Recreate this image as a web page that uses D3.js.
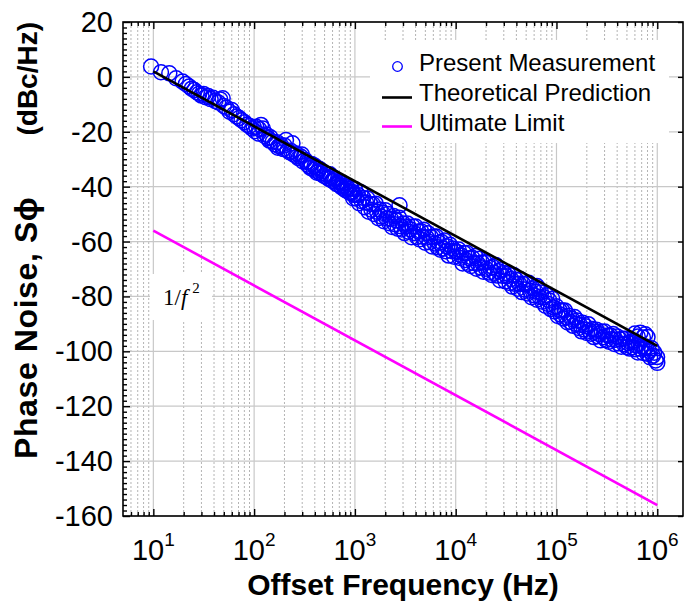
<!DOCTYPE html>
<html>
<head>
<meta charset="utf-8">
<script src="https://cdn.jsdelivr.net/npm/d3@7"></script>
<style>
body { margin: 0; background: #fff; }
text { font-family: "Liberation Sans", Arial, sans-serif; fill: #000; }
</style>
</head>
<body>
<div id="chart"></div>
<script>
const measFreq = [
  9.5, 11.9, 14.4, 16.8, 19.5, 21, 22.7, 24, 25.5, 27, 28.5, 30, 31.5, 33, 35, 37, 39, 41, 44, 46, 48.7, 50, 53, 57, 60, 63, 67, 71, 75, 80, 85, 90, 95, 99,
  102, 105, 110, 112, 117, 122, 127, 132, 138, 142, 145, 153, 160, 168, 172, 176, 185, 195, 200, 207, 215, 226, 233, 240, 248, 262, 268, 275, 290, 298, 305, 320, 330, 338, 355, 362, 372, 390, 400, 410, 420, 432, 443, 455, 478, 490, 500, 525, 538, 552, 565, 580, 595, 610, 625, 640, 655, 672, 688, 705, 722, 740, 760, 778, 795, 815, 835, 855, 878, 900, 920, 945, 960, 975, 990,
  1000, 1030, 1070, 1100, 1140, 1170, 1210, 1250, 1290, 1330, 1370, 1420, 1460, 1510, 1560, 1610, 1660, 1710, 1770, 1820, 1880, 1940, 2000, 2070, 2130, 2200, 2270, 2340, 2420, 2490, 2570, 2660, 2740, 2770, 2830, 2920, 3010, 3110, 3210, 3310, 3420, 3530, 3640, 3750, 3870, 4000, 4120, 4260, 4390, 4530, 4680, 4830, 4980, 5140, 5300, 5470, 5650, 5830, 6010, 6210, 6410, 6610, 6820, 7040, 7260, 7500, 7740, 7980, 8240, 8500, 8770, 9050, 9340, 9640, 9950,
  10300, 10700, 11000, 11400, 11700, 12100, 12500, 12900, 13300, 13700, 14200, 14600, 15100, 15600, 16100, 16600, 17100, 17700, 18200, 18800, 19400, 20000, 20700, 21300, 22000, 22700, 23400, 24200, 24900, 25700, 26600, 27400, 28300, 29200, 30100, 31100, 32100, 33100, 34200, 35300, 36400, 37500, 38700, 40000, 41200, 42600, 43900, 45300, 46800, 48300, 49800, 51400, 53000, 54700, 56500, 58300, 60100, 62100, 64000, 64100, 66100, 68200, 70400, 72600, 75000, 77400, 79800, 82400, 85000, 87700, 90500, 93400, 96400, 99500,
  103000, 107000, 110000, 114000, 117000, 121000, 125000, 129000, 133000, 137000, 142000, 146000, 151000, 156000, 161000, 166000, 171000, 177000, 182000, 188000, 194000, 200000, 207000, 213000, 220000, 227000, 234000, 242000, 249000, 257000, 266000, 274000, 283000, 292000, 301000, 311000, 321000, 331000, 342000, 353000, 364000, 375000, 387000, 400000, 412000, 426000, 439000, 453000, 468000, 483000, 498000, 514000, 530000, 547000, 565000, 583000, 601000, 621000, 641000, 661000, 682000, 704000, 726000, 750000, 774000, 798000, 824000, 850000, 877000, 905000, 934000, 964000, 995000, 1000000,
  600000, 640000, 680000, 720000, 760000, 800000
]
const measPhase = [
  3.8, 1.7, 1.3, -0.5, -1.7, -2.6, -3.5, -4.3, -4.8, -5.6, -6.1, -6.8, -6.2, -7.4, -7.0, -8.1, -7.6, -8.8, -9.3, -8.2, -7.8, -10.6, -11.2, -12.7, -12.1, -13.6, -14.4, -15.0, -15.8, -16.5, -17.4, -17.9, -18.8, -18.3,
  -19.8, -18.2, -20.6, -19.0, -17.5, -18.8, -21.5, -21.0, -22.4, -23.2, -22.0, -23.6, -24.5, -23.8, -25.8, -25.2, -24.9, -26.3, -25.0, -23.0, -26.8, -27.5, -27.0, -24.2, -28.3, -27.9, -29.0, -29.6, -29.0, -28.3, -30.8, -30.2, -31.0, -31.9, -32.6, -33.2, -31.7, -33.8, -32.4, -33.1, -34.9, -34.5, -33.5, -35.2, -34.4, -36.0, -36.1, -35.6, -36.8, -37.2, -35.5, -36.5, -37.8, -38.0, -36.9, -37.4, -39.0, -39.1, -38.1, -38.6, -39.7, -40.3, -38.7, -39.7, -41.0, -41.4, -40.2, -40.8, -42.0, -42.3, -40.6, -41.9, -44.2, -42.8, -43.0,
  -40.9, -44.3, -43.0, -46.0, -42.0, -45.3, -44.1, -47.5, -45.8, -44.3, -49.1, -46.3, -48.4, -46.4, -50.0, -46.2, -49.1, -51.5, -48.3, -50.9, -49.5, -52.6, -48.6, -51.6, -50.0, -53.3, -51.7, -54.7, -50.7, -53.7, -52.3, -55.3, -51.3, -46.8, -54.4, -55.6, -53.4, -56.9, -54.5, -53.4, -56.4, -55.5, -58.4, -54.5, -56.9, -54.5, -58.3, -56.3, -59.2, -56.2, -58.2, -55.7, -60.4, -58.5, -57.0, -60.2, -58.3, -61.8, -58.2, -60.7, -58.2, -62.1, -60.4, -63.0, -60.2, -62.5, -59.6, -63.5, -61.8, -65.1, -61.2, -63.4, -62.5, -65.5, -63.5,
  -63.8, -62.9, -66.0, -65.1, -68.0, -64.2, -66.7, -64.2, -68.1, -66.1, -68.9, -65.9, -67.8, -65.3, -69.9, -68.0, -66.3, -69.4, -67.6, -71.0, -67.5, -69.9, -67.5, -71.3, -69.6, -72.2, -69.3, -71.4, -68.5, -72.4, -70.8, -74.1, -70.2, -72.5, -71.5, -74.5, -72.6, -71.8, -75.1, -73.6, -76.4, -72.2, -75.4, -74.0, -77.2, -75.4, -73.7, -78.4, -75.5, -77.5, -75.4, -78.9, -75.0, -77.9, -80.3, -77.0, -79.6, -78.2, -76.2, -81.2, -77.2, -80.2, -78.6, -81.9, -80.3, -83.4, -79.6, -82.7, -81.5, -84.6, -80.8, -84.0, -85.5, -83.6,
  -87.1, -85.0, -86.6, -85.1, -88.0, -85.1, -87.6, -89.5, -87.0, -89.2, -88.2, -90.7, -87.5, -90.0, -88.8, -91.5, -90.3, -92.7, -89.6, -92.0, -90.9, -93.3, -90.1, -92.6, -93.6, -91.9, -94.8, -92.9, -92.1, -94.5, -93.7, -96.0, -92.9, -94.9, -92.8, -95.9, -94.2, -96.5, -94.2, -95.6, -93.7, -97.3, -95.8, -94.6, -97.1, -95.6, -98.3, -95.4, -97.4, -95.4, -98.4, -97.0, -99.0, -96.7, -98.5, -96.1, -99.2, -97.8, -100.4, -97.3, -99.1, -98.2, -100.6, -99.0, -98.3, -100.9, -99.8, -102.2, -98.9, -101.6, -100.5, -103.3, -102.1, -104.2,
  -93.5, -94.6, -93.2, -95.0, -93.8, -94.8
]
const theoryFreq = [10, 1e6]
const theoryPhase = [2, -98]
const limitFreq = [10, 1e6]
const limitPhase = [-56, -156]

const xTickExps = [1, 2, 3, 4, 5, 6]
const yTickValues = [20, 0, -20, -40, -60, -80, -100, -120, -140, -160]
const legendLabels = ["Present Measurement", "Theoretical Prediction", "Ultimate Limit"]

const width = 684
const height = 603
const margin = {top: 22, right: 1, bottom: 87, left: 123}

const svg = d3.select("#chart").append("svg").attr("width", width).attr("height", height)

// scales
const x = d3.scaleLog().domain([5, 1.8e6]).range([margin.left, width - margin.right])
const y = d3.scaleLinear().domain([-160, 20]).range([height - margin.bottom, margin.top])

const xMajor = xTickExps.map(e => Math.pow(10, e))
let xMinor = []
for (let e = 0; e <= 6; e++) {
  for (let k = 2; k <= 9; k++) {
    const v = k * Math.pow(10, e)
    if (v > 5 && v < 1.8e6) xMinor.push(v)
  }
}
const yMinor = d3.range(-158, 20, 2).filter(v => v % 20 !== 0)

// grid
const grid = svg.append("g")
grid.selectAll(".vminor").data(xMinor).enter().append("line")
  .attr("x1", d => x(d)).attr("x2", d => x(d))
  .attr("y1", y(20)).attr("y2", y(-160))
  .attr("stroke", "#b4b4b4").attr("stroke-width", 1).attr("stroke-dasharray", "2,2")
grid.selectAll(".vmajor").data(xMajor).enter().append("line")
  .attr("x1", d => x(d)).attr("x2", d => x(d))
  .attr("y1", y(20)).attr("y2", y(-160))
  .attr("stroke", "#c8c8c8").attr("stroke-width", 1.2)
grid.selectAll(".hmajor").data(yTickValues).enter().append("line")
  .attr("x1", x(5)).attr("x2", x(1.8e6))
  .attr("y1", d => y(d)).attr("y2", d => y(d))
  .attr("stroke", "#c8c8c8").attr("stroke-width", 1.2)

// white boxes behind legend and 1/f^2 label
svg.append("rect").attr("x", 370).attr("y", 40).attr("width", 299).attr("height", 103).attr("fill", "#fff")
svg.append("rect").attr("x", 150).attr("y", 274).attr("width", 62).attr("height", 46).attr("fill", "#fff")

// lines
const line = d3.line().x(d => x(d[0])).y(d => y(d[1]))
svg.append("path").datum(d3.zip(limitFreq, limitPhase)).attr("d", line)
  .attr("fill", "none").attr("stroke", "#ff00ff").attr("stroke-width", 2.6)

// measurement circles
svg.append("g").selectAll("circle").data(d3.zip(measFreq, measPhase)).enter().append("circle")
  .attr("cx", d => x(d[0])).attr("cy", d => y(d[1])).attr("r", 7.5)
  .attr("fill", "none").attr("stroke", "#0000ff").attr("stroke-width", 1.5)

svg.append("path").datum(d3.zip(theoryFreq, theoryPhase)).attr("d", line)
  .attr("fill", "none").attr("stroke", "#000").attr("stroke-width", 2.6)

// axes (ticks inward)
function styleAxis(g) {
  g.select(".domain").remove()
  g.selectAll("line").attr("stroke", "#000").attr("stroke-width", 1.4)
}
svg.append("g").attr("transform", `translate(0, ${y(-160)})`)
  .call(d3.axisBottom(x).tickValues(xMajor).tickSize(-7).tickFormat("")).call(styleAxis)
svg.append("g").attr("transform", `translate(0, ${y(-160)})`)
  .call(d3.axisBottom(x).tickValues(xMinor).tickSize(-4).tickFormat("")).call(styleAxis)
svg.append("g").attr("transform", `translate(0, ${y(20)})`)
  .call(d3.axisTop(x).tickValues(xMajor).tickSize(-7).tickFormat("")).call(styleAxis)
svg.append("g").attr("transform", `translate(0, ${y(20)})`)
  .call(d3.axisTop(x).tickValues(xMinor).tickSize(-4).tickFormat("")).call(styleAxis)
svg.append("g").attr("transform", `translate(${x(5)}, 0)`)
  .call(d3.axisLeft(y).tickValues(yTickValues).tickSize(-7).tickFormat("")).call(styleAxis)
svg.append("g").attr("transform", `translate(${x(5)}, 0)`)
  .call(d3.axisLeft(y).tickValues(yMinor).tickSize(-4).tickFormat("")).call(styleAxis)
svg.append("g").attr("transform", `translate(${x(1.8e6)}, 0)`)
  .call(d3.axisRight(y).tickValues(yTickValues).tickSize(-5).tickFormat("")).call(styleAxis)

// frame
svg.append("rect").attr("x", x(5)).attr("y", y(20))
  .attr("width", x(1.8e6) - x(5)).attr("height", y(-160) - y(20))
  .attr("fill", "none").attr("stroke", "#000").attr("stroke-width", 1.6)

// tick labels
svg.selectAll(".ylab").data(yTickValues).enter().append("text")
  .attr("x", x(5) - 10).attr("y", d => y(d) + 10)
  .attr("text-anchor", "end").style("font-size", "29px")
  .text(d => d)

const xl = svg.selectAll(".xlab").data(xTickExps).enter().append("text")
  .attr("x", d => x(Math.pow(10, d))).attr("y", 560)
  .attr("text-anchor", "middle").style("font-size", "29px")
xl.append("tspan").text("10")
xl.append("tspan").attr("dy", -14).style("font-size", "19px").text(d => d)

// axis titles
svg.append("text").attr("x", (x(5) + x(1.8e6)) / 2).attr("y", 595)
  .attr("text-anchor", "middle").style("font-size", "30px").style("font-weight", "bold")
  .text("Offset Frequency (Hz)")
svg.append("text").attr("transform", "translate(37, 459) rotate(-90)")
  .attr("text-anchor", "start").style("font-size", "32px").style("font-weight", "bold")
  .style("letter-spacing", "0.6px")
  .text("Phase Noise, S\u03d5")
svg.append("text").attr("transform", "translate(37, 22) rotate(-90)")
  .attr("text-anchor", "end").style("font-size", "28px").style("font-weight", "bold")
  .text("(dBc/Hz)")

// 1/f^2 label
const fl = svg.append("text").attr("x", 163).attr("y", 305)
  .style("font-family", "'Liberation Serif', 'Times New Roman', serif").style("font-size", "23px")
fl.append("tspan").text("1/")
fl.append("tspan").style("font-style", "italic").text("f")
fl.append("tspan").attr("dx", 5).attr("dy", -12).style("font-size", "15px").text("2")

// legend
const lg = svg.append("g")
lg.append("circle").attr("cx", 397.5).attr("cy", 66.5).attr("r", 4.8)
  .attr("fill", "none").attr("stroke", "#0000ff").attr("stroke-width", 1.3)
lg.append("line").attr("x1", 382).attr("x2", 412).attr("y1", 97.5).attr("y2", 97.5)
  .attr("stroke", "#000").attr("stroke-width", 2.6)
lg.append("line").attr("x1", 382).attr("x2", 412).attr("y1", 126.5).attr("y2", 126.5)
  .attr("stroke", "#ff00ff").attr("stroke-width", 2.6)
lg.selectAll(".lt").data(legendLabels).enter().append("text")
  .attr("x", 419).attr("y", (d, i) => 71 + i * 30)
  .style("font-size", "24px").text(d => d)
</script>
</body>
</html>
